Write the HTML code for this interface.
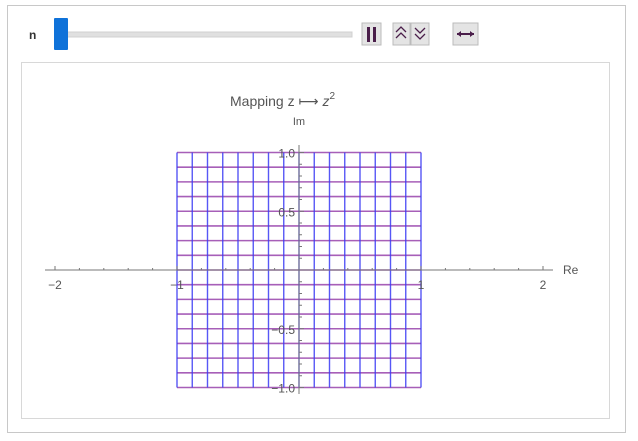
<!DOCTYPE html>
<html><head><meta charset="utf-8"><style>
body{margin:0;width:638px;height:436px;background:#fff;font-family:"Liberation Sans",sans-serif;overflow:hidden}
</style></head><body>
<svg width="638" height="436" viewBox="0 0 638 436">
<rect x="7.5" y="5.5" width="618" height="427" fill="#fff" stroke="#c8c8c8"/>
<text x="29" y="39" font-size="12" font-weight="bold" fill="#333">n</text>
<rect x="60" y="32" width="292" height="5" fill="#e0e0e0" stroke="#d0d0d0"/>
<rect x="54" y="18" width="14" height="32" rx="1" fill="#0f72d9"/>
<g><rect x="362" y="23" width="19" height="22" fill="#e4e4e4" stroke="#bbb"/><rect x="367" y="27" width="3" height="15" fill="#4a1e4a"/><rect x="373" y="27" width="3" height="15" fill="#4a1e4a"/></g>
<g><rect x="393" y="23" width="17" height="22" fill="#e4e4e4" stroke="#bbb"/><path d="M396 32l5-5 5 5M396 38l5-5 5 5" fill="none" stroke="#4a1e4a" stroke-width="1.3"/></g>
<g><rect x="411" y="23" width="18" height="22" fill="#e4e4e4" stroke="#bbb"/><path d="M415 28l5 5 5-5M415 34l5 5 5-5" fill="none" stroke="#4a1e4a" stroke-width="1.3"/></g>
<g><rect x="453" y="23" width="25" height="22" fill="#e4e4e4" stroke="#bbb"/><path d="M457 34h17" stroke="#4a1e4a" stroke-width="2"/><path d="M457 34l4-3v6zM474 34l-4-3v6z" fill="#4a1e4a"/></g>
<rect x="21.5" y="62.5" width="588" height="356" fill="#fff" stroke="#d8d8d8"/>
<text x="230" y="106" font-size="14" fill="#555">Mapping z ⟼ <tspan font-style="italic">z</tspan><tspan dy="-7" font-size="10">2</tspan></text>
<g id="plot"></g>
</svg>
<script>
const gridValues=[-1,-0.875,-0.75,-0.625,-0.5,-0.375,-0.25,-0.125,0,0.125,0.25,0.375,0.5,0.625,0.75,0.875,1];
const xTickLabels=[-2,-1,1,2];
const yTickLabels=["-1.0","-0.5","0.5","1.0"];
const yTickValues=[-1,-0.5,0.5,1];
const sx=v=>299+v*122, sy=v=>270-v*117.5;
const NS="http://www.w3.org/2000/svg", g=document.getElementById('plot');
function mk(t,a){const e=document.createElementNS(NS,t);for(const k in a)e.setAttribute(k,a[k]);g.appendChild(e);return e;}
gridValues.forEach(v=>{
 const l=mk('line',{x1:sx(-1),x2:sx(1),y1:sy(v),y2:sy(v),stroke:'#8a2aa0','stroke-width':1.6,'stroke-opacity':0.75});
 
 
});
gridValues.forEach(v=>{
 const l=mk('line',{x1:sx(v),x2:sx(v),y1:sy(-1),y2:sy(1),stroke:'#3a3af5','stroke-width':1.4,'stroke-opacity':0.85});
 
 
});
const xa=mk('line',{x1:45,x2:553,y1:270,y2:270,stroke:'#777','stroke-width':1});


const ya=mk('line',{x1:299,x2:299,y1:145,y2:394,stroke:'#777','stroke-width':1});


for(let i=-10;i<=10;i++){if(i==0)continue;const v=i/5;mk('line',{x1:sx(v),x2:sx(v),y1:270,y2:i%5==0?266:268,stroke:'#777'});}
for(let i=-10;i<=10;i++){if(i==0)continue;const v=i/10;mk('line',{x1:299,x2:i%5==0?304:302,y1:sy(v),y2:sy(v),stroke:'#777'});}
xTickLabels.forEach(v=>{const t=mk('text',{x:sx(v),y:289,'font-size':12,fill:'#555','text-anchor':'middle'});t.textContent=String(v).replace('-','−');
 
 });
yTickValues.forEach((v,i)=>{const t=mk('text',{x:295,y:sy(v)+5,'font-size':12,fill:'#555','text-anchor':'end'});t.textContent=yTickLabels[i].replace('-','−');
 
 });
const re=mk('text',{x:563,y:274,'font-size':12,fill:'#555'});re.textContent='Re';


const im=mk('text',{x:299,y:125,'font-size':11,fill:'#555','text-anchor':'middle'});im.textContent='Im';


</script>
</body></html>
